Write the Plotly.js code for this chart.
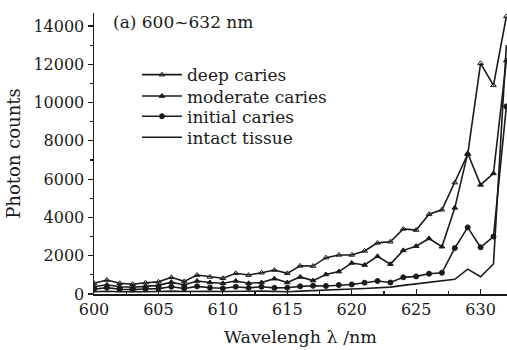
<!DOCTYPE html>
<html>
<head>
<meta charset="utf-8">
<script src="https://cdn.plot.ly/plotly-3.0.1.min.js"></script>
<style>
  html, body { margin: 0; padding: 0; background: #fff; }
  #chart { width: 507px; height: 350px; }
</style>
</head>
<body>
<div id="chart"></div>
<script>
// Wavelength samples, 600-632 nm in 1 nm steps
const wavelength = [600,601,602,603,604,605,606,607,608,609,610,611,612,613,614,615,616,
                    617,618,619,620,621,622,623,624,625,626,627,628,629,630,631,632];

// Photon counts per tissue state
const deepCaries = [560,730,560,510,590,635,870,660,990,890,820,1080,990,1110,1250,1080,1470,
                    1460,1900,2040,2040,2250,2670,2730,3400,3340,4170,4400,5820,7300,12050,10900,14500];
const moderateCaries = [380,480,380,350,400,450,620,470,680,600,560,680,560,600,800,600,890,
                        700,1020,1170,1620,1515,1970,1560,2280,2500,2900,2470,4500,7350,5700,6300,12200];
const initialCaries = [250,330,250,230,260,280,380,290,400,330,300,380,320,380,320,330,400,
                       430,420,470,500,590,680,600,870,920,1060,1110,2400,3480,2440,3000,9800];
const intactTissue = [120,140,120,110,120,130,150,130,150,140,130,150,140,150,140,120,150,
                      170,200,230,260,290,320,360,450,530,610,690,770,1300,900,1570,13000];

const seriesNames = ['deep caries', 'moderate caries', 'initial caries', 'intact tissue'];
const panelLabel = '(a) 600~632 nm';
const yTicks = [0, 2000, 4000, 6000, 8000, 10000, 12000, 14000];
const xTicks = [600, 605, 610, 615, 620, 625, 630];

const serif = 'DejaVu Serif, Liberation Serif, serif';
const ink = '#1a1a1a';

// each series gets its own one-row legend so the rows can sit tightly stacked
const legendIds = ['legend', 'legend2', 'legend3', 'legend4'];
const legendRowsY = [0.779, 0.703, 0.631, 0.556];

function series(y, i, symbol) {
  const t = {
    x: wavelength, y: y, name: seriesNames[i], type: 'scatter',
    mode: symbol ? 'lines+markers' : 'lines',
    line: { color: ink, width: 1.6 },
    legend: legendIds[i]
  };
  if (symbol) {
    t.marker = { symbol: symbol, size: 5, color: ink, line: { color: ink, width: 1 } };
  }
  return t;
}

const data = [
  series(deepCaries, 0, 'triangle-up-open'),
  series(moderateCaries, 1, 'triangle-up'),
  series(initialCaries, 2, 'circle'),
  series(intactTissue, 3, null)
];

function legendBox(i) {
  return {
    x: 0.104, y: legendRowsY[i], xanchor: 'left', yanchor: 'middle',
    bgcolor: 'rgba(0,0,0,0)', borderwidth: 0,
    font: { family: serif, size: 17, color: ink },
    itemwidth: 40
  };
}

const layout = {
  width: 507, height: 350,
  margin: { l: 93.5, r: 0, t: 13, b: 56 },
  paper_bgcolor: '#fff', plot_bgcolor: '#fff',
  font: { family: serif, color: ink, size: 16 },
  showlegend: true,
  legend: legendBox(0),
  legend2: legendBox(1),
  legend3: legendBox(2),
  legend4: legendBox(3),
  xaxis: {
    range: [600, 632.05],
    tickvals: xTicks,
    ticks: 'inside', ticklen: 5, tickwidth: 1.2, tickcolor: ink,
    minor: { dtick: 2.5, tick0: 600, ticks: 'inside', ticklen: 3, tickcolor: ink },
    showline: true, linecolor: ink, linewidth: 1.5,
    showgrid: false, zeroline: false,
    tickfont: { family: serif, size: 16, color: ink },
    title: { text: 'Wavelengh λ /nm', font: { family: serif, size: 17.5, color: ink }, standoff: 13 }
  },
  yaxis: {
    range: [0, 14680],
    tickvals: yTicks,
    tickformat: 'd',
    ticks: 'outside', ticklen: 5, tickwidth: 1.2, tickcolor: ink,
    minor: { dtick: 1000, ticks: 'outside', ticklen: 3, tickcolor: ink },
    showline: true, linecolor: ink, linewidth: 1.5,
    showgrid: false, zeroline: false,
    tickfont: { family: serif, size: 16, color: ink },
    title: { text: 'Photon counts', font: { family: serif, size: 18, color: ink }, standoff: 8 }
  },
  annotations: [{
    text: panelLabel, xref: 'paper', yref: 'paper',
    x: 0.04, y: 0.968, xanchor: 'left', yanchor: 'middle', showarrow: false,
    font: { family: serif, size: 17, color: ink }
  }]
};

Plotly.newPlot('chart', data, layout, { displayModeBar: false, staticPlot: true });
</script>
</body>
</html>
